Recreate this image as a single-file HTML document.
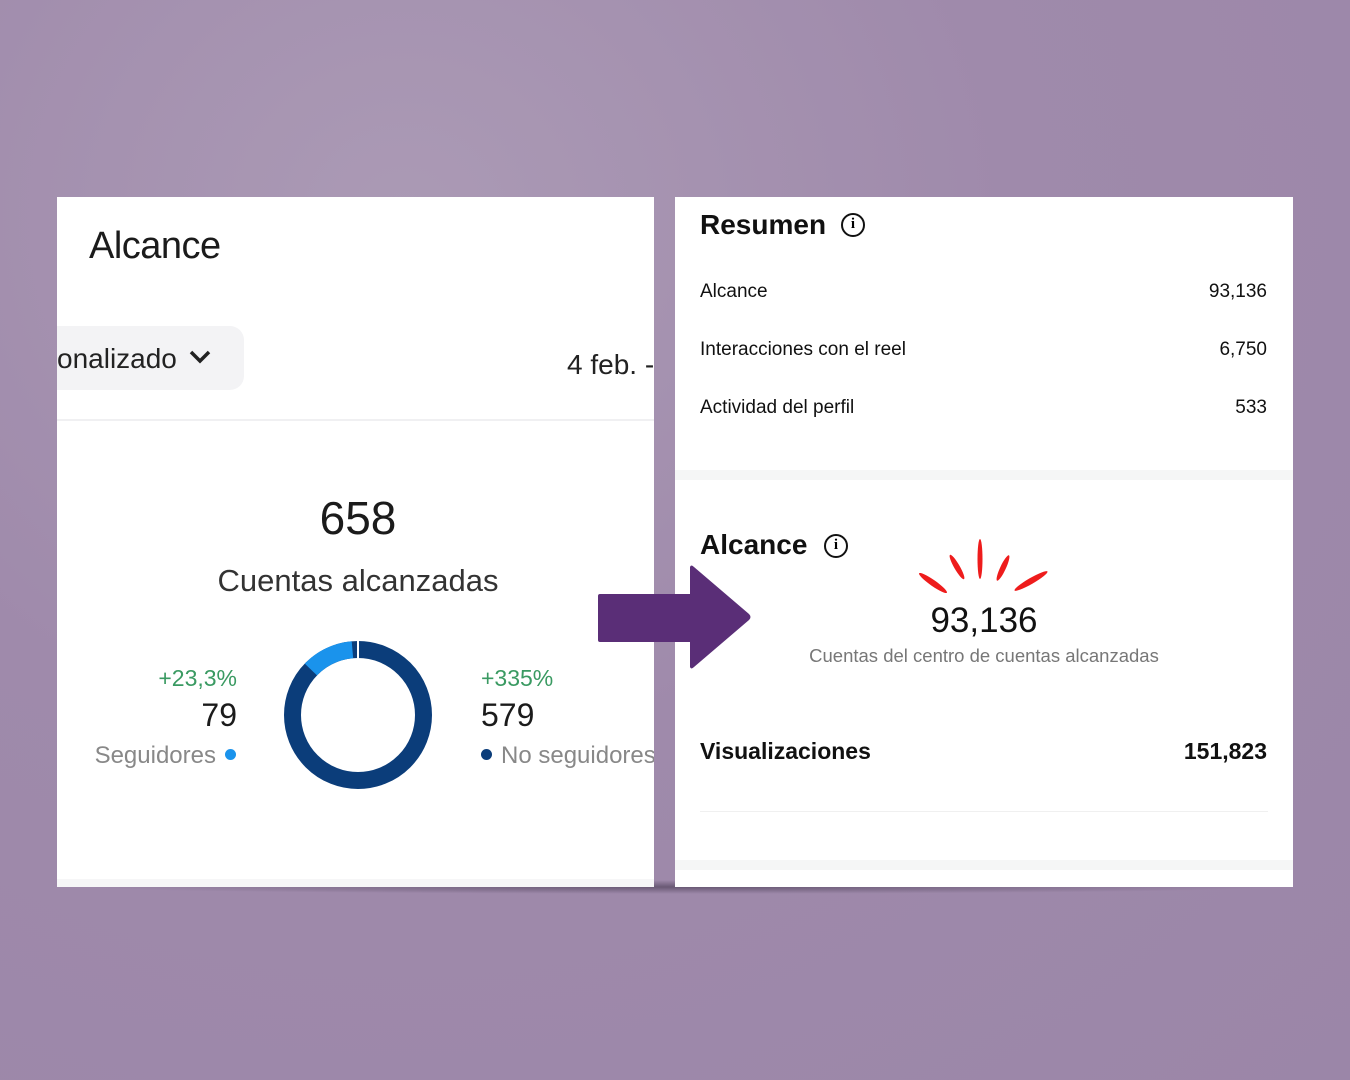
<!DOCTYPE html>
<html><head><meta charset="utf-8"><style>
*{margin:0;padding:0;box-sizing:border-box}
body{width:1350px;height:1080px;overflow:hidden;position:relative;font-family:"Liberation Sans",sans-serif;
background:radial-gradient(ellipse at 30% 20%,#ab9ab5 0%,#9f8aab 45%,#9b86a8 100%);}
.a{position:absolute;white-space:nowrap}
.card{position:absolute;background:#fff;overflow:hidden}
</style></head><body>
<div class="a" style="left:80px;top:880px;width:1200px;height:14px;background:radial-gradient(ellipse at center,rgba(40,30,50,.45),rgba(40,30,50,0) 70%)"></div>
<div class="card" style="left:57px;top:197px;width:597px;height:690px">
 <div class="a" style="left:32px;top:28px;font-size:38px;color:#1b1b1b;letter-spacing:-0.5px">Alcance</div>
 <div class="a" style="left:-20px;top:129px;width:207px;height:64px;background:#f3f3f5;border-radius:14px"></div>
 <div class="a" style="left:0;top:146px;font-size:28px;color:#222">onalizado</div>
 <svg class="a" style="left:132px;top:152px" width="22" height="16"><path d="M2 3 L11 12 L20 3" stroke="#222" stroke-width="3.5" fill="none"/></svg>
 <div class="a" style="left:510px;top:152px;font-size:28px;color:#222">4 feb. -</div>
 <div class="a" style="left:0;top:222px;width:597px;height:2px;background:#f0f0f2"></div>
 <div class="a" style="left:0;top:294px;width:602px;text-align:center;font-size:46px;color:#1b1b1b">658</div>
 <div class="a" style="left:0;top:366px;width:602px;text-align:center;font-size:31px;color:#333">Cuentas alcanzadas</div>
 <svg class="a" style="left:221px;top:437px" width="160" height="160">
  <circle cx="80" cy="81" r="65.5" fill="none" stroke="#0b3d7a" stroke-width="17"/>
  <circle cx="80" cy="81" r="65.5" fill="none" stroke="#1a93ec" stroke-width="17" stroke-dasharray="47 400" transform="rotate(-136 80 81)"/>
  <line x1="80" y1="6" x2="80" y2="25" stroke="#fff" stroke-width="2"/>
 </svg>
 <div class="a" style="right:417px;top:468px;font-size:23px;color:#3a9a62">+23,3%</div>
 <div class="a" style="right:417px;top:500px;font-size:32px;color:#1b1b1b">79</div>
 <div class="a" style="right:438px;top:545px;font-size:24px;color:#888">Seguidores</div>
 <div class="a" style="left:168px;top:552px;width:11px;height:11px;border-radius:50%;background:#1a93ec"></div>
 <div class="a" style="left:424px;top:468px;font-size:23px;color:#3a9a62">+335%</div>
 <div class="a" style="left:424px;top:500px;font-size:32px;color:#1b1b1b">579</div>
 <div class="a" style="left:424px;top:552px;width:11px;height:11px;border-radius:50%;background:#0b3d7a"></div>
 <div class="a" style="left:444px;top:545px;font-size:24px;color:#888">No seguidores</div>
 <div class="a" style="left:0;top:682px;width:597px;height:8px;background:#f6f6f7"></div>
</div>
<div class="card" style="left:675px;top:197px;width:618px;height:690px">
 <div class="a" style="left:25px;top:12px;font-size:28px;font-weight:bold;color:#111">Resumen</div>
 <div class="a" style="left:166px;top:16px;width:24px;height:24px;border:2.5px solid #111;border-radius:50%;font:bold 15px 'Liberation Serif',serif;text-align:center;line-height:19px">i</div>
 <div class="a" style="left:25px;top:84px;font-size:19px;color:#111">Alcance</div>
 <div class="a" style="right:26px;top:84px;font-size:19px;color:#111">93,136</div>
 <div class="a" style="left:25px;top:142px;font-size:19px;color:#111">Interacciones con el reel</div>
 <div class="a" style="right:26px;top:142px;font-size:19px;color:#111">6,750</div>
 <div class="a" style="left:25px;top:200px;font-size:19px;color:#111">Actividad del perfil</div>
 <div class="a" style="right:26px;top:200px;font-size:19px;color:#111">533</div>
 <div class="a" style="left:0;top:273px;width:618px;height:10px;background:#f5f6f6"></div>
 <div class="a" style="left:25px;top:332px;font-size:28px;font-weight:bold;color:#111">Alcance</div>
 <div class="a" style="left:149px;top:337px;width:24px;height:24px;border:2.5px solid #111;border-radius:50%;font:bold 15px 'Liberation Serif',serif;text-align:center;line-height:19px">i</div>
 <div class="a" style="left:0;top:404px;width:618px;text-align:center;font-size:35px;color:#111;padding-left:0">93,136</div>
 <div class="a" style="left:0;top:448px;width:618px;text-align:center;font-size:18.5px;color:#777">Cuentas del centro de cuentas alcanzadas</div>
 <svg class="a" style="left:230px;top:335px" width="160" height="70" fill="#ee1c1c">
  <ellipse cx="75" cy="27" rx="2.5" ry="20"/>
  <ellipse cx="52" cy="35" rx="2.8" ry="14" transform="rotate(-30 52 35)"/>
  <ellipse cx="98" cy="36" rx="2.8" ry="14" transform="rotate(25 98 36)"/>
  <ellipse cx="28" cy="51" rx="3" ry="17" transform="rotate(-55 28 51)"/>
  <ellipse cx="126" cy="49" rx="3" ry="19" transform="rotate(60 126 49)"/>
 </svg>
 <div class="a" style="left:25px;top:541px;font-size:23px;font-weight:bold;color:#111">Visualizaciones</div>
 <div class="a" style="right:26px;top:541px;font-size:23px;font-weight:bold;color:#111">151,823</div>
 <div class="a" style="left:25px;top:614px;width:568px;height:1px;background:#f0f0f0"></div>
 <div class="a" style="left:0;top:663px;width:618px;height:10px;background:#f5f6f6"></div>
</div>
<svg class="a" style="left:596px;top:562px" width="160" height="112">
 <path d="M4 32 L94 32 L94 5 Q95 2 98 5 L153 52 Q156 55 153 58 L98 105 Q95 108 94 105 L94 80 L4 80 Q2 80 2 78 L2 34 Q2 32 4 32 Z" fill="#5a2e77"/>
</svg>
</body></html>
